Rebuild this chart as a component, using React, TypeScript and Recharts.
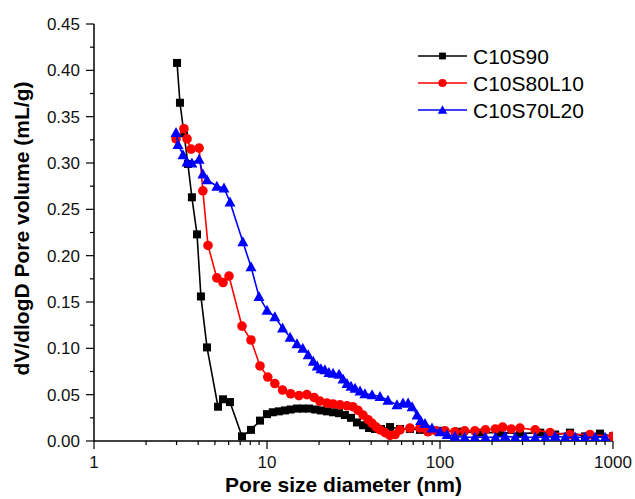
import { ScatterChart, Scatter, XAxis, YAxis, Legend } from 'recharts'

// pore size distribution
const seriesNames = ['C10S90', 'C10S80L10', 'C10S70L20']

const s90Diameter = [3.02, 3.14, 3.31, 3.49, 3.68, 3.94, 4.15, 4.5, 5.21, 5.57, 6.11, 7.17, 8.08, 9.11, 10.0, 10.8, 11.7, 12.7, 13.7, 14.9, 16.1, 17.5, 19.0, 20.5, 22.2, 24.1, 26.1, 28.2, 30.6, 33.1, 35.9, 38.9, 42.1, 45.6, 51.4, 58.7, 67.0, 76.6, 87.6, 100, 130, 170, 222, 290, 380, 463, 564, 690, 841, 1000]
const s90Volume = [0.408, 0.365, 0.332, 0.299, 0.263, 0.223, 0.156, 0.101, 0.037, 0.045, 0.042, 0.005, 0.012, 0.022, 0.029, 0.031, 0.032, 0.033, 0.034, 0.035, 0.035, 0.035, 0.034, 0.033, 0.032, 0.031, 0.03, 0.028, 0.025, 0.02, 0.017, 0.014, 0.013, 0.013, 0.015, 0.013, 0.013, 0.012, 0.012, 0.011, 0.01, 0.009, 0.009, 0.008, 0.009, 0.007, 0.009, 0.005, 0.008, 0.005]

const s80Diameter = [2.98, 3.31, 3.45, 3.64, 4.05, 4.26, 4.56, 5.13, 5.57, 6.03, 7.17, 8.08, 9.11, 10.1, 11.1, 12.3, 13.7, 15.3, 17.0, 18.7, 20.2, 22.2, 24.1, 26.4, 29.0, 31.3, 33.6, 35.9, 38.4, 40.5, 42.8, 45.0, 48.1, 51.4, 55.0, 58.7, 67.0, 76.6, 85.1, 94.9, 107, 122, 139, 159, 183, 209, 230, 258, 290, 355, 433, 564, 736, 1000]
const s80Volume = [0.326, 0.337, 0.326, 0.315, 0.316, 0.27, 0.211, 0.176, 0.171, 0.178, 0.124, 0.109, 0.081, 0.069, 0.062, 0.055, 0.051, 0.049, 0.05, 0.047, 0.043, 0.041, 0.04, 0.039, 0.038, 0.037, 0.033, 0.028, 0.023, 0.019, 0.015, 0.012, 0.009, 0.006, 0.007, 0.012, 0.014, 0.014, 0.01, 0.011, 0.011, 0.01, 0.011, 0.011, 0.012, 0.013, 0.015, 0.013, 0.014, 0.012, 0.009, 0.007, 0.007, 0.005]

const s70Diameter = [2.98, 3.06, 3.27, 3.45, 3.68, 4.05, 4.26, 4.5, 5.13, 5.64, 6.11, 7.25, 8.08, 8.99, 10.0, 11.1, 12.3, 13.6, 14.9, 16.1, 17.3, 18.5, 19.5, 20.5, 21.6, 22.8, 24.1, 26.1, 27.5, 29.0, 30.6, 32.3, 34.5, 36.8, 40.5, 45.0, 50.0, 56.4, 61.1, 65.4, 69.0, 73.7, 77.3, 81.9, 89.9, 100, 110, 122, 139, 159, 183, 209, 238, 272, 311, 355, 407, 463, 529, 605, 690, 789, 900]
const s70Volume = [0.333, 0.32, 0.309, 0.301, 0.3, 0.304, 0.288, 0.282, 0.275, 0.273, 0.258, 0.215, 0.188, 0.156, 0.141, 0.134, 0.122, 0.112, 0.105, 0.1, 0.093, 0.086, 0.081, 0.078, 0.077, 0.074, 0.073, 0.072, 0.067, 0.062, 0.059, 0.057, 0.054, 0.051, 0.05, 0.048, 0.044, 0.039, 0.041, 0.041, 0.037, 0.028, 0.022, 0.019, 0.014, 0.01, 0.007, 0.005, 0.004, 0.004, 0.004, 0.004, 0.005, 0.004, 0.004, 0.004, 0.004, 0.005, 0.004, 0.004, 0.004, 0.004, 0.004]

const xMajorTicks = [1, 10, 100, 1000]
const xMinorTicks = [2, 3, 4, 5, 6, 7, 8, 9, 20, 30, 40, 50, 60, 70, 80, 90, 200, 300, 400, 500, 600, 700, 800, 900]
const yMajorTicks = [0, 0.05, 0.1, 0.15, 0.2, 0.25, 0.3, 0.35, 0.4, 0.45]
const yMinorTicks = [0.025, 0.075, 0.125, 0.175, 0.225, 0.275, 0.325, 0.375, 0.425]

const FONT = '"Liberation Sans", Arial, sans-serif'
const colors = ['#000000', '#ff0000', '#0000ff']

const toPoints = (d: number[], v: number[]) => d.map((x, i) => ({ d: x, v: v[i] }))

const s90 = toPoints(s90Diameter, s90Volume)
const s80 = toPoints(s80Diameter, s80Volume)
const s70 = toPoints(s70Diameter, s70Volume)

function marker(kind: number, cx: number, cy: number, color: string, s = 1) {
  if (kind === 0) return <rect x={cx - 4 * s} y={cy - 4 * s} width={8 * s} height={8 * s} fill={color} />
  if (kind === 1) return <circle cx={cx} cy={cy} r={4.8 * s} fill={color} />
  return (
    <polygon
      points={`${cx},${cy - 5.5 * s} ${cx + 5.5 * s},${cy + 4.5 * s} ${cx - 5.5 * s},${cy + 4.5 * s}`}
      fill={color}
    />
  )
}

function XTick({ x, y, payload }: any) {
  const major = xMajorTicks.includes(payload.value)
  return (
    <g>
      <line x1={x} x2={x} y1={y} y2={y + (major ? 8 : 4)} stroke='#000' strokeWidth={1.2} />
      {major && (
        <text x={x} y={y + 27} textAnchor='middle' fontSize={17} fontFamily={FONT} fill='#111'>
          {payload.value}
        </text>
      )}
    </g>
  )
}

function YTick({ x, y, payload }: any) {
  const major = yMajorTicks.includes(payload.value)
  return (
    <g>
      <line x1={x} x2={x - (major ? 8 : 4)} y1={y} y2={y} stroke='#000' strokeWidth={1.2} />
      {major && (
        <text x={x - 14} y={y} dy='0.36em' textAnchor='end' fontSize={17} fontFamily={FONT} fill='#111'>
          {payload.value.toFixed(2)}
        </text>
      )}
    </g>
  )
}

function XTitle({ viewBox }: any) {
  const cx = viewBox.x + viewBox.width / 2 - 10
  return (
    <text x={cx} y={viewBox.y + 51} textAnchor='middle' fontSize={21} fontWeight='bold' fontFamily={FONT} fill='#000'>
      Pore size diameter (nm)
    </text>
  )
}

function YTitle({ viewBox }: any) {
  const cx = viewBox.x + 21
  const cy = viewBox.y + viewBox.height / 2 - 4
  return (
    <text
      x={cx}
      y={cy}
      dy='0.36em'
      transform={`rotate(-90 ${cx} ${cy})`}
      textAnchor='middle'
      fontSize={21}
      fontWeight='bold'
      fontFamily={FONT}
      fill='#000'
    >
      dV/dlogD Pore volume (mL/g)
    </text>
  )
}

function LegendBox() {
  return (
    <svg width={210} height={84}>
      {seriesNames.map((name, i) => {
        const cy = 14 + i * 27
        return (
          <g key={name}>
            <line x1={8} x2={57} y1={cy} y2={cy} stroke={colors[i]} strokeWidth={1.6} />
            {marker(i, 32.5, cy, colors[i], 0.85)}
            <text x={63} y={cy} dy='0.36em' fontSize={21} fontFamily={FONT} fill='#000'>
              {name}
            </text>
          </g>
        )
      })}
    </svg>
  )
}

export default function App() {
  const seriesData = [s90, s80, s70]
  return (
    <div style={{ position: 'absolute', left: 0, top: 0, width: 635, height: 499, background: '#fff' }}>
      <ScatterChart width={635} height={499} margin={{ top: 24, right: 22, bottom: 0, left: 0 }}>
        <XAxis
          dataKey='d'
          type='number'
          scale='log'
          domain={[1, 1000]}
          allowDataOverflow
          ticks={[...xMajorTicks, ...xMinorTicks].sort((a, b) => a - b)}
          interval={0}
          height={58}
          tickSize={0}
          tickMargin={0}
          tickLine={false}
          tick={<XTick />}
          axisLine={{ stroke: '#000', strokeWidth: 1.5 }}
          label={<XTitle />}
        />
        <XAxis
          xAxisId='top'
          orientation='top'
          type='number'
          scale='log'
          domain={[1, 1000]}
          allowDataOverflow
          height={0}
          tick={false}
          tickLine={false}
          axisLine={{ stroke: '#000', strokeWidth: 1.5 }}
        />
        <YAxis
          dataKey='v'
          type='number'
          domain={[0, 0.45]}
          allowDataOverflow
          ticks={[...yMajorTicks, ...yMinorTicks].sort((a, b) => a - b)}
          interval={0}
          width={94}
          tickSize={0}
          tickMargin={0}
          tickLine={false}
          tick={<YTick />}
          axisLine={{ stroke: '#000', strokeWidth: 1.5 }}
          label={<YTitle />}
        />
        <YAxis
          yAxisId='right'
          orientation='right'
          type='number'
          domain={[0, 0.45]}
          width={0}
          tick={false}
          tickLine={false}
          axisLine={{ stroke: '#000', strokeWidth: 1.5 }}
        />
        {seriesData.map((pts, i) => (
          <Scatter
            key={seriesNames[i]}
            name={seriesNames[i]}
            data={pts}
            fill={colors[i]}
            line={{ stroke: colors[i], strokeWidth: 1.6 }}
            lineJointType='linear'
            shape={(p: any) => marker(i, p.cx, p.cy, colors[i])}
            isAnimationActive={false}
          />
        ))}
        <Legend
          layout='vertical'
          align='center'
          verticalAlign='middle'
          content={<LegendBox />}
          wrapperStyle={{ left: 410, top: 42, width: 210 }}
        />
      </ScatterChart>
    </div>
  )
}
